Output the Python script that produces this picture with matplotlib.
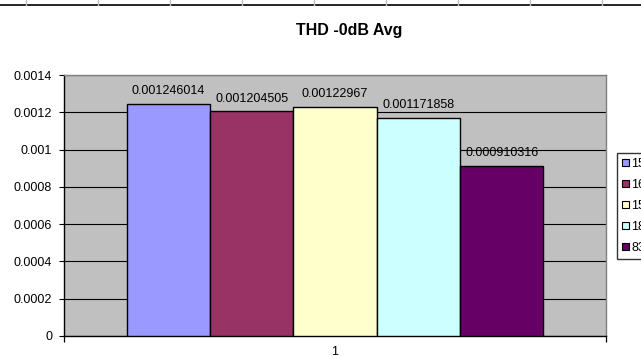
import matplotlib
matplotlib.use("Agg")
import matplotlib.pyplot as plt
from matplotlib.patches import Patch
from matplotlib.lines import Line2D

plt.rcParams['font.family'] = ['Liberation Sans', 'DejaVu Sans']

title = "THD -0dB Avg"
category = ["1"]
series_names = ["1500", "1600", "1500", "1800", "8300"]
values = [0.001246014, 0.001204505, 0.00122967, 0.001171858, 0.000910316]
colors = ["#9999FF", "#993366", "#FFFFCC", "#CCFFFF", "#660066"]
yticks = [0, 0.0002, 0.0004, 0.0006, 0.0008, 0.001, 0.0012, 0.0014]
ytick_labels = ["0", "0.0002", "0.0004", "0.0006", "0.0008", "0.001", "0.0012", "0.0014"]

W, H = 641, 358
fig = plt.figure(figsize=(W / 100, H / 100), dpi=100)
fig.patch.set_facecolor("white")

# spreadsheet cell borders at the very top
fig.add_artist(Line2D([0, 1], [1 - 5 / H, 1 - 5 / H], color="black", lw=1.2))
for xp in [25.5, 97.5, 169.5, 241.5, 313.5, 385.5, 457.5, 529.5, 601.5]:
    fig.add_artist(Line2D([xp / W, xp / W], [1 - 4.5 / H, 1], color="#C0C0C0", lw=1.0))

left, right, top, bottom = 64, 606, 75, 336
ax = fig.add_axes([left / W, 1 - bottom / H, (right - left) / W, (bottom - top) / H])
ax.set_facecolor("#C0C0C0")

n = len(values)
width = 1.0 / (n + 1.5)
start = 1 - n * width / 2
handles = []
for i, (v, c, name) in enumerate(zip(values, colors, series_names)):
    xc = start + (i + 0.5) * width
    ax.bar(xc, v, width=width, color=c, edgecolor="black", linewidth=1.0, zorder=3)
    lab = f"{v:.9f}".rstrip("0")
    ax.annotate(lab, (xc, v), xytext=(0, 5), textcoords="offset points",
                ha="center", va="bottom", fontsize=9, zorder=4)
    handles.append(Patch(facecolor=c, edgecolor="black", linewidth=0.8, label=name))

ax.set_xlim(0.5, 1.5)
ax.set_ylim(0, 0.0014)
ax.set_yticks(yticks)
ax.set_yticklabels(ytick_labels)
ax.yaxis.grid(True, color="black", linewidth=0.8, zorder=1)
ax.set_axisbelow(True)
ax.tick_params(axis="y", direction="out", length=3.5, width=0.8, pad=5, labelsize=9)

ax.set_xticks([1])
ax.set_xticklabels(category)
ax.set_xticks([0.5, 1.5], minor=True)
ax.tick_params(axis="x", which="major", length=0, pad=7.5, labelsize=9)
ax.tick_params(axis="x", which="minor", direction="out", length=4, width=0.9)

for s in ["left", "bottom"]:
    ax.spines[s].set_color("black")
    ax.spines[s].set_linewidth(1.0)
for s in ["top", "right"]:
    ax.spines[s].set_color("#808080")
    ax.spines[s].set_linewidth(1.0)

fig.text(349 / W, 1 - 31 / H, title, ha="center", va="center",
         fontsize=11.5, fontweight="bold")

leg = fig.legend(handles=handles, loc="upper left",
                 bbox_to_anchor=(617 / W, 1 - 153 / H),
                 frameon=True, fancybox=False, edgecolor="black",
                 fontsize=9, handlelength=0.55, handleheight=0.55,
                 handletextpad=0.2, labelspacing=0.72, borderpad=0.4,
                 borderaxespad=0)
leg.get_frame().set_linewidth(1.0)

fig.savefig("out.png", dpi=100)
